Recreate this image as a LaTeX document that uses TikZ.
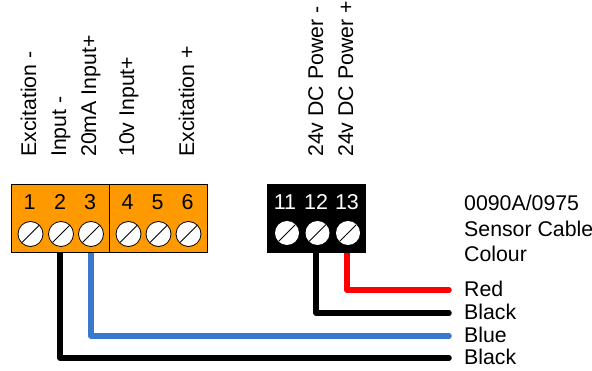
\documentclass[tikz,border=0pt]{standalone}
\usepackage{fontspec}
\setmainfont{Liberation Sans}
\usetikzlibrary{backgrounds}
\definecolor{termorange}{HTML}{FF9900}
\definecolor{wireblue}{HTML}{3A78D0}
\definecolor{wirered}{HTML}{FF0000}
\tikzset{
  block/.style={draw=black,line width=0.9pt,minimum height=68pt,inner sep=0pt,anchor=north west},
  blackblock/.style={fill=black,draw=none,minimum width=99pt,minimum height=69pt,inner sep=0pt,anchor=north west},
  screw/.style={circle,draw=black,fill=white,line width=0.8pt,minimum size=25pt,inner sep=0pt,
    path picture={\draw[line width=0.9pt] ([shift={(-8.5,8.5)}]path picture bounding box.center) -- ([shift={(8.5,-8.5)}]path picture bounding box.center);}},
  bscrew/.style={screw,draw=none,minimum size=24pt},
  num/.style={font=\fontsize{21.5}{21.5}\selectfont,inner sep=0pt,anchor=base},
  wnum/.style={num,text=white},
  vlabel/.style={font=\fontsize{21.3}{21.3}\selectfont,rotate=90,anchor=base west,inner sep=0pt},
  clabel/.style={font=\fontsize{21.3}{21.3}\selectfont,anchor=base west,inner sep=0pt},
  wire/.style={line width=5.5pt,line cap=round,line join=round},
}
\begin{document}
\begin{tikzpicture}[x=1pt,y=-1pt]
\useasboundingbox (0,0) rectangle (592,371);
\node[block,fill=termorange,minimum width=98pt] (left) at (11,184.5) {};
\node[block,fill=termorange,minimum width=98pt] (right) at (109,184.5) {};
\node[blackblock] (bk) at (267,184) {};
\foreach \n/\x in {1/30.5,2/61,3/91,4/128.5,5/158.5,6/188.5}{
  \node[num] (n\n) at (\x-1,210) {\n};
  \node[screw] (s\n) at (\x,234) {};
}
\foreach \n/\x/\nx in {11/287/285,12/317.5/316,13/348/347}{
  \node[wnum] (n\n) at (\nx,210) {\n};
  \node[bscrew] (s\n) at (\x,233) {};
}
\node[vlabel] (l1) at (36,157) {Excitation -};
\node[vlabel] (l2) at (66,157) {Input -};
\node[vlabel] (l3) at (96,157) {20mA Input+};
\node[vlabel] (l4) at (134,157) {10v Input+};
\node[vlabel] (l6) at (194,157) {Excitation +};
\node[vlabel] (l11) at (323,157) {24v DC Power -};
\node[vlabel] (l13) at (353,157) {24v DC Power +};
\node[clabel] (t1) at (464,211) {0090A/0975};
\node[clabel] (t2) at (464,237) {Sensor Cable};
\node[clabel] (t3) at (464,262) {Colour};
\node[clabel] (c1) at (464,297) {Red};
\node[clabel] (c2) at (464,320) {Black};
\node[clabel] (c3) at (464,343) {Blue};
\node[clabel] (c4) at (464,365) {Black};
\coordinate (e1) at (449,290);
\coordinate (e2) at (449,313);
\coordinate (e3) at (449,336);
\coordinate (e4) at (449,358);
\begin{scope}[on background layer]
\draw[wire,wirered] ([xshift=-1pt]s13.center) |- (e1);
\draw[wire,black] ([xshift=-1.5pt]s12.center) |- (e2);
\draw[wire,wireblue] (s3.center) |- (e3);
\draw[wire,black] ([xshift=-1pt]s2.center) |- (e4);
\end{scope}
\end{tikzpicture}
\end{document}
